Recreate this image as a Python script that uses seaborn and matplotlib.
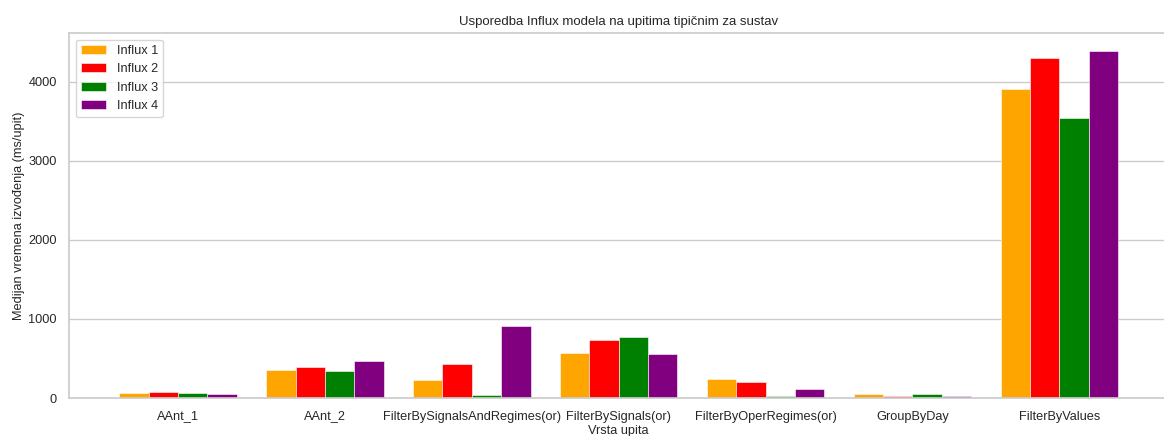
import matplotlib
matplotlib.use("Agg")
import matplotlib.pyplot as plt
import seaborn as sns
import pandas as pd

categories = ["AAnt_1", "AAnt_2", "FilterBySignalsAndRegimes(or)", "FilterBySignals(or)",
              "FilterByOperRegimes(or)", "GroupByDay", "FilterByValues"]
series_names = ["Influx 1", "Influx 2", "Influx 3", "Influx 4"]
influx1 = [63, 354, 232, 570, 244, 51, 3905]
influx2 = [80, 387, 425, 734, 202, 29, 4300]
influx3 = [63, 342, 38, 772, 25, 51, 3535]
influx4 = [50, 472, 906, 557, 114, 25, 4385]
colors = ["orange", "red", "green", "purple"]

rows = []
for name, vals in zip(series_names, [influx1, influx2, influx3, influx4]):
    for c, v in zip(categories, vals):
        rows.append({"Vrsta upita": c, "model": name, "value": v})
df = pd.DataFrame(rows)

sns.set_theme(style="whitegrid")
plt.rcParams['font.family'] = ['Liberation Sans', 'DejaVu Sans']

fs = 9.2
fig = plt.figure(figsize=(11.64, 4.36), dpi=100)
ax = fig.add_axes([69.3 / 1164, 38 / 436, (1168 - 69.3) / 1164, (398 - 33.3) / 436])

sns.barplot(data=df, x="Vrsta upita", y="value", hue="model", palette=colors,
            order=categories, hue_order=series_names, width=0.8,
            edgecolor="white", linewidth=0.4, saturation=1, ax=ax, errorbar=None)

ax.set_xlim(-0.74, 6.74)
ax.set_ylim(0, 4610)
ax.set_yticks([0, 1000, 2000, 3000, 4000])
ax.set_title("Usporedba Influx modela na upitima tipičnim za sustav", fontsize=fs + 0.3, pad=6)
ax.set_xlabel("Vrsta upita", fontsize=fs, labelpad=2)
ax.set_ylabel("Medijan vremena izvođenja (ms/upit)", fontsize=fs, labelpad=2.5)
ax.tick_params(axis="both", labelsize=fs, pad=3)
ax.legend(loc="upper left", fontsize=fs, frameon=True)

fig.savefig("out.png", dpi=100)
